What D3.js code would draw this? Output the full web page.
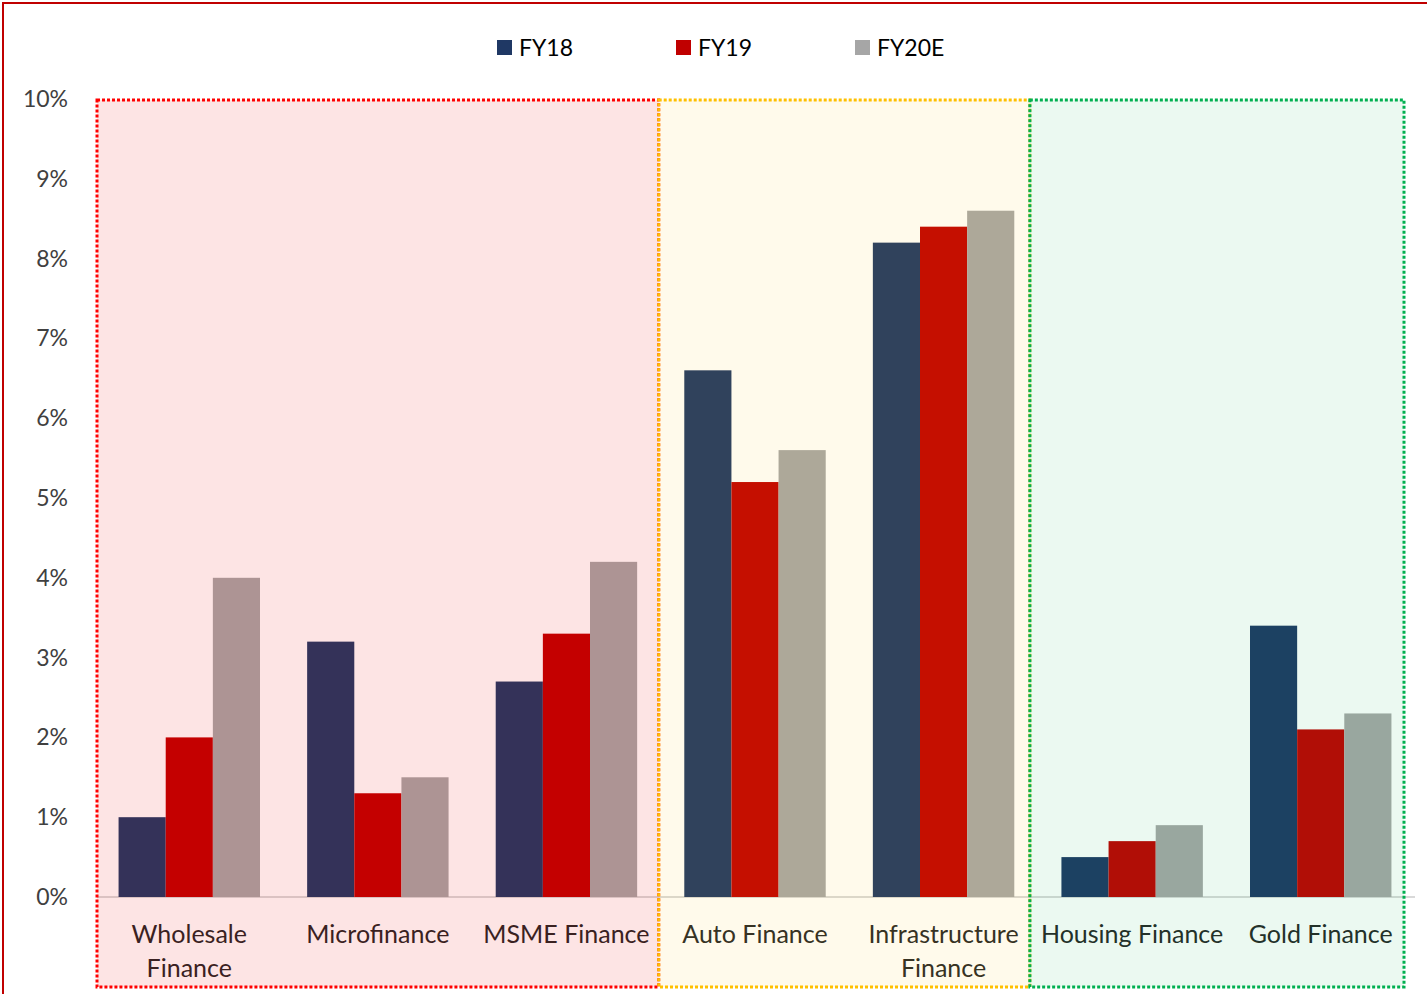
<!DOCTYPE html>
<html lang="en">
<head>
<meta charset="utf-8">
<script src="https://d3js.org/d3.v7.min.js"></script>
<style>
  body { margin: 0; background: #fff; }
  svg text { font-family: Lato, "Open Sans", sans-serif; }
</style>
</head>
<body>
<script>
var categories = ["Wholesale Finance", "Microfinance", "MSME Finance", "Auto Finance",
                  "Infrastructure Finance", "Housing Finance", "Gold Finance"];
var seriesNames = ["FY18", "FY19", "FY20E"];
var fy18 = [1.0, 3.2, 2.7, 6.6, 8.2, 0.5, 3.4];
var fy19 = [2.0, 1.3, 3.3, 5.2, 8.4, 0.7, 2.1];
var fy20e = [4.0, 1.5, 4.2, 5.6, 8.6, 0.9, 2.3];
var yTicks = [0, 1, 2, 3, 4, 5, 6, 7, 8, 9, 10];
// segment groups: first and last category index
var groups = [
  {from: 0, to: 2, color: "#ff0000", fill: "rgba(235,0,0,0.105)"},
  {from: 3, to: 4, color: "#ffc000", fill: "rgba(255,192,0,0.08)"},
  {from: 5, to: 6, color: "#00b050", fill: "rgba(0,176,80,0.08)"}
];

var colors = ["#1f3864", "#c00000", "#a6a6a6"];
var width = 1427, height = 994;
var margin = {left: 95, right: 12, top: 99, bottom: 97};

var svg = d3.select("body").append("svg")
    .attr("width", width)
    .attr("height", height);

// outer frame
svg.append("rect")
    .attr("x", 3).attr("y", 3)
    .attr("width", width + 20).attr("height", height + 20)
    .attr("fill", "none")
    .attr("stroke", "#c00000")
    .attr("stroke-width", 2);

var x = d3.scaleBand()
    .domain(categories)
    .range([margin.left, width - margin.right]);

var x1 = d3.scaleBand()
    .domain(seriesNames)
    .range([0, x.bandwidth()])
    .paddingInner(0)
    .paddingOuter(0.5);

var y = d3.scaleLinear()
    .domain([0, 10])
    .range([height - margin.bottom, margin.top]);

var values = [fy18, fy19, fy20e];

// y labels
svg.append("g").selectAll("text")
    .data(yTicks)
    .enter().append("text")
    .attr("x", 68)
    .attr("y", function(d) { return y(d); })
    .attr("dy", "0.35em")
    .attr("text-anchor", "end")
    .attr("font-size", 23)
    .attr("fill", "#404040")
    .text(function(d) { return d + "%"; });

// axis baseline
svg.append("line")
    .attr("x1", margin.left + 2).attr("x2", width - margin.right)
    .attr("y1", y(0)).attr("y2", y(0))
    .attr("stroke", "#d9d9d9")
    .attr("stroke-width", 2);

// bars
seriesNames.forEach(function(s, si) {
  svg.append("g").selectAll("rect")
    .data(values[si])
    .enter().append("rect")
    .attr("x", function(d, i) { return x(categories[i]) + x1(s); })
    .attr("width", x1.bandwidth())
    .attr("y", function(d) { return y(d); })
    .attr("height", function(d) { return y(0) - y(d); })
    .attr("fill", colors[si]);
});

// category labels
var labels = svg.append("g").selectAll("text")
    .data(categories)
    .enter().append("text")
    .attr("x", function(d) { return x(d) + x.bandwidth() / 2; })
    .attr("y", 943)
    .attr("text-anchor", "middle")
    .attr("font-size", 25)
    .attr("fill", "#262626")
    .text(function(d) { return d; });

labels.each(function(d) {
  var t = d3.select(this);
  if (this.getComputedTextLength() > x.bandwidth() - 2 && d.indexOf(" ") > 0) {
    var words = d.split(" ");
    t.text(null);
    t.append("tspan").attr("x", x(d) + x.bandwidth() / 2).text(words[0]);
    t.append("tspan").attr("x", x(d) + x.bandwidth() / 2).attr("dy", 34)
      .text(words.slice(1).join(" "));
  }
});

// tinted group boxes over the bars
var rightTrim = [2, 8, 11];
function boxLeft(g, i) {
  return i === 0 ? x(categories[g.from]) + 2
                 : x(categories[groups[i - 1].to]) + x.bandwidth() - rightTrim[i - 1];
}
svg.append("g").selectAll("rect")
    .data(groups)
    .enter().append("rect")
    .attr("x", boxLeft)
    .attr("y", y(10) + 1)
    .attr("width", function(g, i) {
      return x(categories[g.to]) + x.bandwidth() - rightTrim[i] - boxLeft(g, i);
    })
    .attr("height", 987 - y(10) - 1)
    .attr("fill", function(g) { return g.fill; })
    .attr("stroke", function(g) { return g.color; })
    .attr("stroke-width", 3)
    .attr("stroke-dasharray", "3 2");

// legend
var legend = svg.append("g").selectAll("g")
    .data(seriesNames)
    .enter().append("g")
    .attr("transform", function(d, i) { return "translate(" + (497 + i * 179) + ",40)"; });

legend.append("rect")
    .attr("width", 15).attr("height", 15)
    .attr("fill", function(d, i) { return colors[i]; });

legend.append("text")
    .attr("x", 22)
    .attr("y", 8)
    .attr("dy", "0.35em")
    .attr("font-size", 23)
    .attr("fill", "#000")
    .text(function(d) { return d; });
</script>
</body>
</html>
